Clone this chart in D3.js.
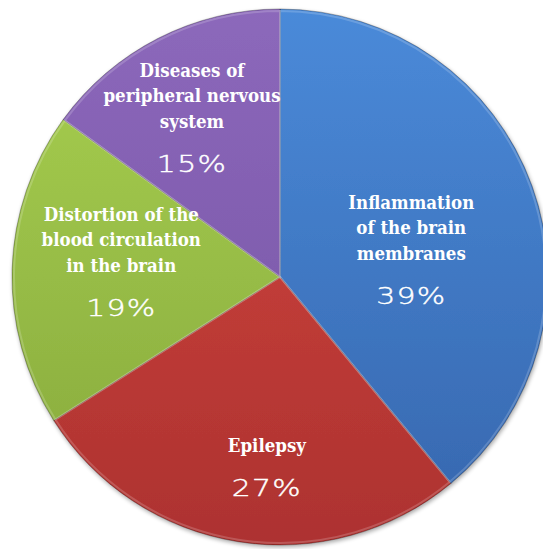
<!DOCTYPE html>
<html>
<head>
<meta charset="utf-8">
<script src="https://cdn.jsdelivr.net/npm/d3@7"></script>
<style>
  html, body { margin: 0; padding: 0; background: #fff; overflow: hidden; }
  svg { display: block; }
</style>
</head>
<body>
<svg id="chart" width="543" height="549"></svg>
<script>
const categories = [
    ["Inflammation", "of  the brain", "membranes"],
    ["Epilepsy"],
    ["Distortion of  the", "blood circulation", "in the brain"],
    ["Diseases of", "peripheral nervous", "system"]
];
const values = [39, 27, 19, 15];
const percentLabels = ["39%", "27%", "19%", "15%"];

const colorsTop = ["#4a8ad9", "#d4463f", "#a8d050", "#8c68bb"];
const colorsBottom = ["#3666ad", "#ad3230", "#86a83c", "#7452a2"];

// label placement relative to slice centroid
const labelNudge = [[-20, 81], [12, 60], [2, 44], [-15, 38]];

const width = 543, height = 549;
const cx = 280, cy = 277, radius = 268;

const svg = d3.select("#chart");
const defs = svg.append("defs");

colorsTop.forEach((c, i) => {
    const lg = defs.append("linearGradient")
        .attr("id", "grad" + i)
        .attr("gradientUnits", "userSpaceOnUse")
        .attr("x1", 0).attr("y1", -radius)
        .attr("x2", 0).attr("y2", radius);
    lg.append("stop").attr("offset", "0%").attr("stop-color", c);
    lg.append("stop").attr("offset", "100%").attr("stop-color", colorsBottom[i]);
});

const shadow = defs.append("filter").attr("id", "shadow")
    .attr("x", "-10%").attr("y", "-10%").attr("width", "120%").attr("height", "120%");
shadow.append("feGaussianBlur").attr("in", "SourceAlpha").attr("stdDeviation", 2);
shadow.append("feOffset").attr("dx", 1).attr("dy", 2).attr("result", "off");
shadow.append("feComponentTransfer").append("feFuncA").attr("type", "linear").attr("slope", 0.35);
const merge = shadow.append("feMerge");
merge.append("feMergeNode");
merge.append("feMergeNode").attr("in", "SourceGraphic");

const pie = d3.pie().sort(null).value(d => d);
const arcs = pie(values);

const arc = d3.arc().innerRadius(0).outerRadius(radius);
const labelArc = d3.arc().innerRadius(radius * 1.2).outerRadius(0);

const g = svg.append("g")
    .attr("transform", `translate(${cx},${cy})`);

g.append("g")
    .attr("filter", "url(#shadow)")
    .selectAll("path")
    .data(arcs)
    .enter()
    .append("path")
    .attr("d", arc)
    .attr("fill", (d, i) => `url(#grad${i})`)
    .style("stroke", "rgba(0,0,0,0.28)")
    .style("stroke-width", 1);

// inner highlight for bevel look
const innerArc = d3.arc().innerRadius(0).outerRadius(radius - 2);
g.selectAll(".hl")
    .data(arcs)
    .enter()
    .append("path")
    .attr("class", "hl")
    .attr("d", innerArc)
    .style("fill", "none")
    .style("stroke", "rgba(255,255,255,0.18)")
    .style("stroke-width", 2);

const labels = g.selectAll(".label")
    .data(arcs)
    .enter()
    .append("g")
    .attr("class", "label")
    .attr("transform", (d, i) => {
        const [x, y] = labelArc.centroid(d);
        return `translate(${x + labelNudge[i][0]},${y + labelNudge[i][1]})`;
    });

labels.each(function (d, i) {
    const lg = d3.select(this);
    const lines = categories[i];
    lines.forEach((line, k) => {
        lg.append("text")
            .attr("x", 0)
            .attr("y", -44 - (lines.length - 1 - k) * 25.5)
            .attr("text-anchor", "middle")
            .style("font-family", "'DejaVu Serif', serif")
            .style("font-stretch", "condensed")
            .style("font-weight", "bold")
            .style("font-size", "18.5px")
            .style("fill", "#fff")
            .text(line);
    });
    lg.append("text")
        .attr("x", 0)
        .attr("y", 0)
        .attr("text-anchor", "middle")
        .attr("transform", "scale(1.3,1)")
        .style("font-family", "'DejaVu Sans', sans-serif")
        .style("font-weight", 200)
        .style("font-size", "23px")
        .style("letter-spacing", "1px")
        .style("fill", "#fff")
        .style("stroke", "#fff")
        .style("stroke-width", 0.4)
        .text(percentLabels[i]);
});
</script>
</body>
</html>
